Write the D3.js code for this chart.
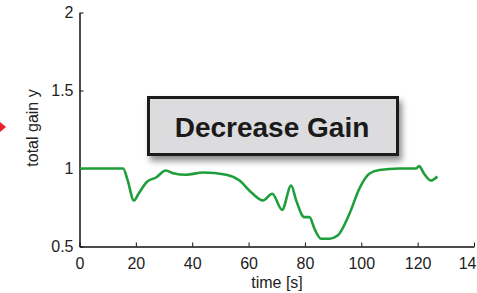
<!DOCTYPE html>
<html>
<head>
<meta charset="utf-8">
<script src="https://cdn.jsdelivr.net/npm/d3@7"></script>
<style>
  body { margin: 0; background: #fff; }
  text { font-family: "Liberation Sans", Arial, sans-serif; }
</style>
</head>
<body>
<div id="chart"></div>
<script>
// values
const timeS = [0, 15.5, 17, 19.3, 21, 23.8, 27.3, 30.6, 33.2, 37.9, 43.8, 52.1, 56.8, 60.9, 65.1, 68.4, 71.9, 75.1, 76.9, 79.8, 81.6, 83.4, 85.7, 88.7, 91.6, 95.8, 99.3, 102.8, 106.4, 113.5, 119.4, 120.5, 122.3, 124.7, 127];
const gainY = [1, 1, 0.93, 0.795, 0.84, 0.912, 0.944, 0.987, 0.97, 0.96, 0.974, 0.96, 0.923, 0.848, 0.795, 0.838, 0.735, 0.891, 0.795, 0.688, 0.688, 0.613, 0.55, 0.55, 0.57, 0.71, 0.87, 0.966, 0.99, 1.0, 1.0, 1.015, 0.966, 0.923, 0.949];
const xTicks = [0, 20, 40, 60, 80, 100, 120, 140];
const yTicks = [0.5, 1, 1.5, 2];
const boxLabel = "Decrease Gain";

const W = 477, H = 293;
const svg = d3.select("#chart").append("svg")
    .attr("width", W).attr("height", H);

const x = d3.scaleLinear().domain([0, 140]).range([79.5, 474]);
const y = d3.scaleLinear().domain([0.5, 2]).range([246.5, 12.5]);

// axes, ticks point inward
const xAxis = svg.append("g")
    .attr("transform", "translate(0," + y(0.5) + ")")
    .call(d3.axisBottom(x).tickValues(xTicks).tickSizeInner(-4).tickSizeOuter(0)
      .tickFormat(d => d === 140 ? "14" : d));
xAxis.selectAll("text").attr("dy", "0").attr("y", 22).style("font-size", "16px").attr("fill", "#222");
// the 140 label sits at the image edge; only "14" shows
xAxis.selectAll(".tick").filter(d => d === 140).select("text").attr("text-anchor", "end").attr("x", 2);

const yAxis = svg.append("g")
    .attr("transform", "translate(" + x(0) + ",0)")
    .call(d3.axisLeft(y).tickValues(yTicks).tickSizeInner(-4).tickSizeOuter(0)
      .tickFormat(d3.format("")));
yAxis.selectAll("text").attr("x", -6).style("font-size", "16px").attr("fill", "#222");

svg.selectAll(".domain").attr("stroke", "#111").attr("stroke-width", 1.5);
svg.selectAll(".tick line").attr("stroke", "#111");

// axis titles
svg.append("text")
    .attr("x", 277).attr("y", 288)
    .attr("text-anchor", "middle")
    .style("font-size", "16px").attr("fill", "#222")
    .text("time [s]");

svg.append("text")
    .attr("transform", "translate(38,128) rotate(-90)")
    .attr("text-anchor", "middle")
    .style("font-size", "16px").attr("fill", "#222")
    .text("total gain y");

// red arrow tip at left edge
svg.append("path")
    .attr("d", "M0,122 L6,127 L0,132 Z")
    .attr("fill", "#e8202a");

// gain curve
const line = d3.line()
    .x((d, i) => x(timeS[i]))
    .y(d => y(d))
    .curve(d3.curveMonotoneX);

svg.append("path")
    .datum(gainY)
    .attr("d", line)
    .attr("fill", "none")
    .attr("stroke", "#1f9e3c")
    .attr("stroke-width", 2.6)
    .attr("stroke-linejoin", "round");

// annotation box
const defs = svg.append("defs");
const f = defs.append("filter").attr("id", "shadow")
    .attr("x", "-10%").attr("y", "-20%").attr("width", "130%").attr("height", "160%");
f.append("feDropShadow").attr("dx", 3).attr("dy", 5).attr("stdDeviation", 3)
    .attr("flood-color", "#000").attr("flood-opacity", 0.45);

svg.append("rect")
    .attr("x", 148.5).attr("y", 97.5).attr("width", 249).attr("height", 57)
    .attr("fill", "#dcdcde")
    .attr("stroke", "#1a1a1a").attr("stroke-width", 3)
    .attr("filter", "url(#shadow)");

svg.append("text")
    .attr("x", 272).attr("y", 137)
    .attr("text-anchor", "middle")
    .style("font-size", "28px").style("font-weight", "bold")
    .attr("fill", "#1a1a1a")
    .text(boxLabel);
</script>
</body>
</html>
